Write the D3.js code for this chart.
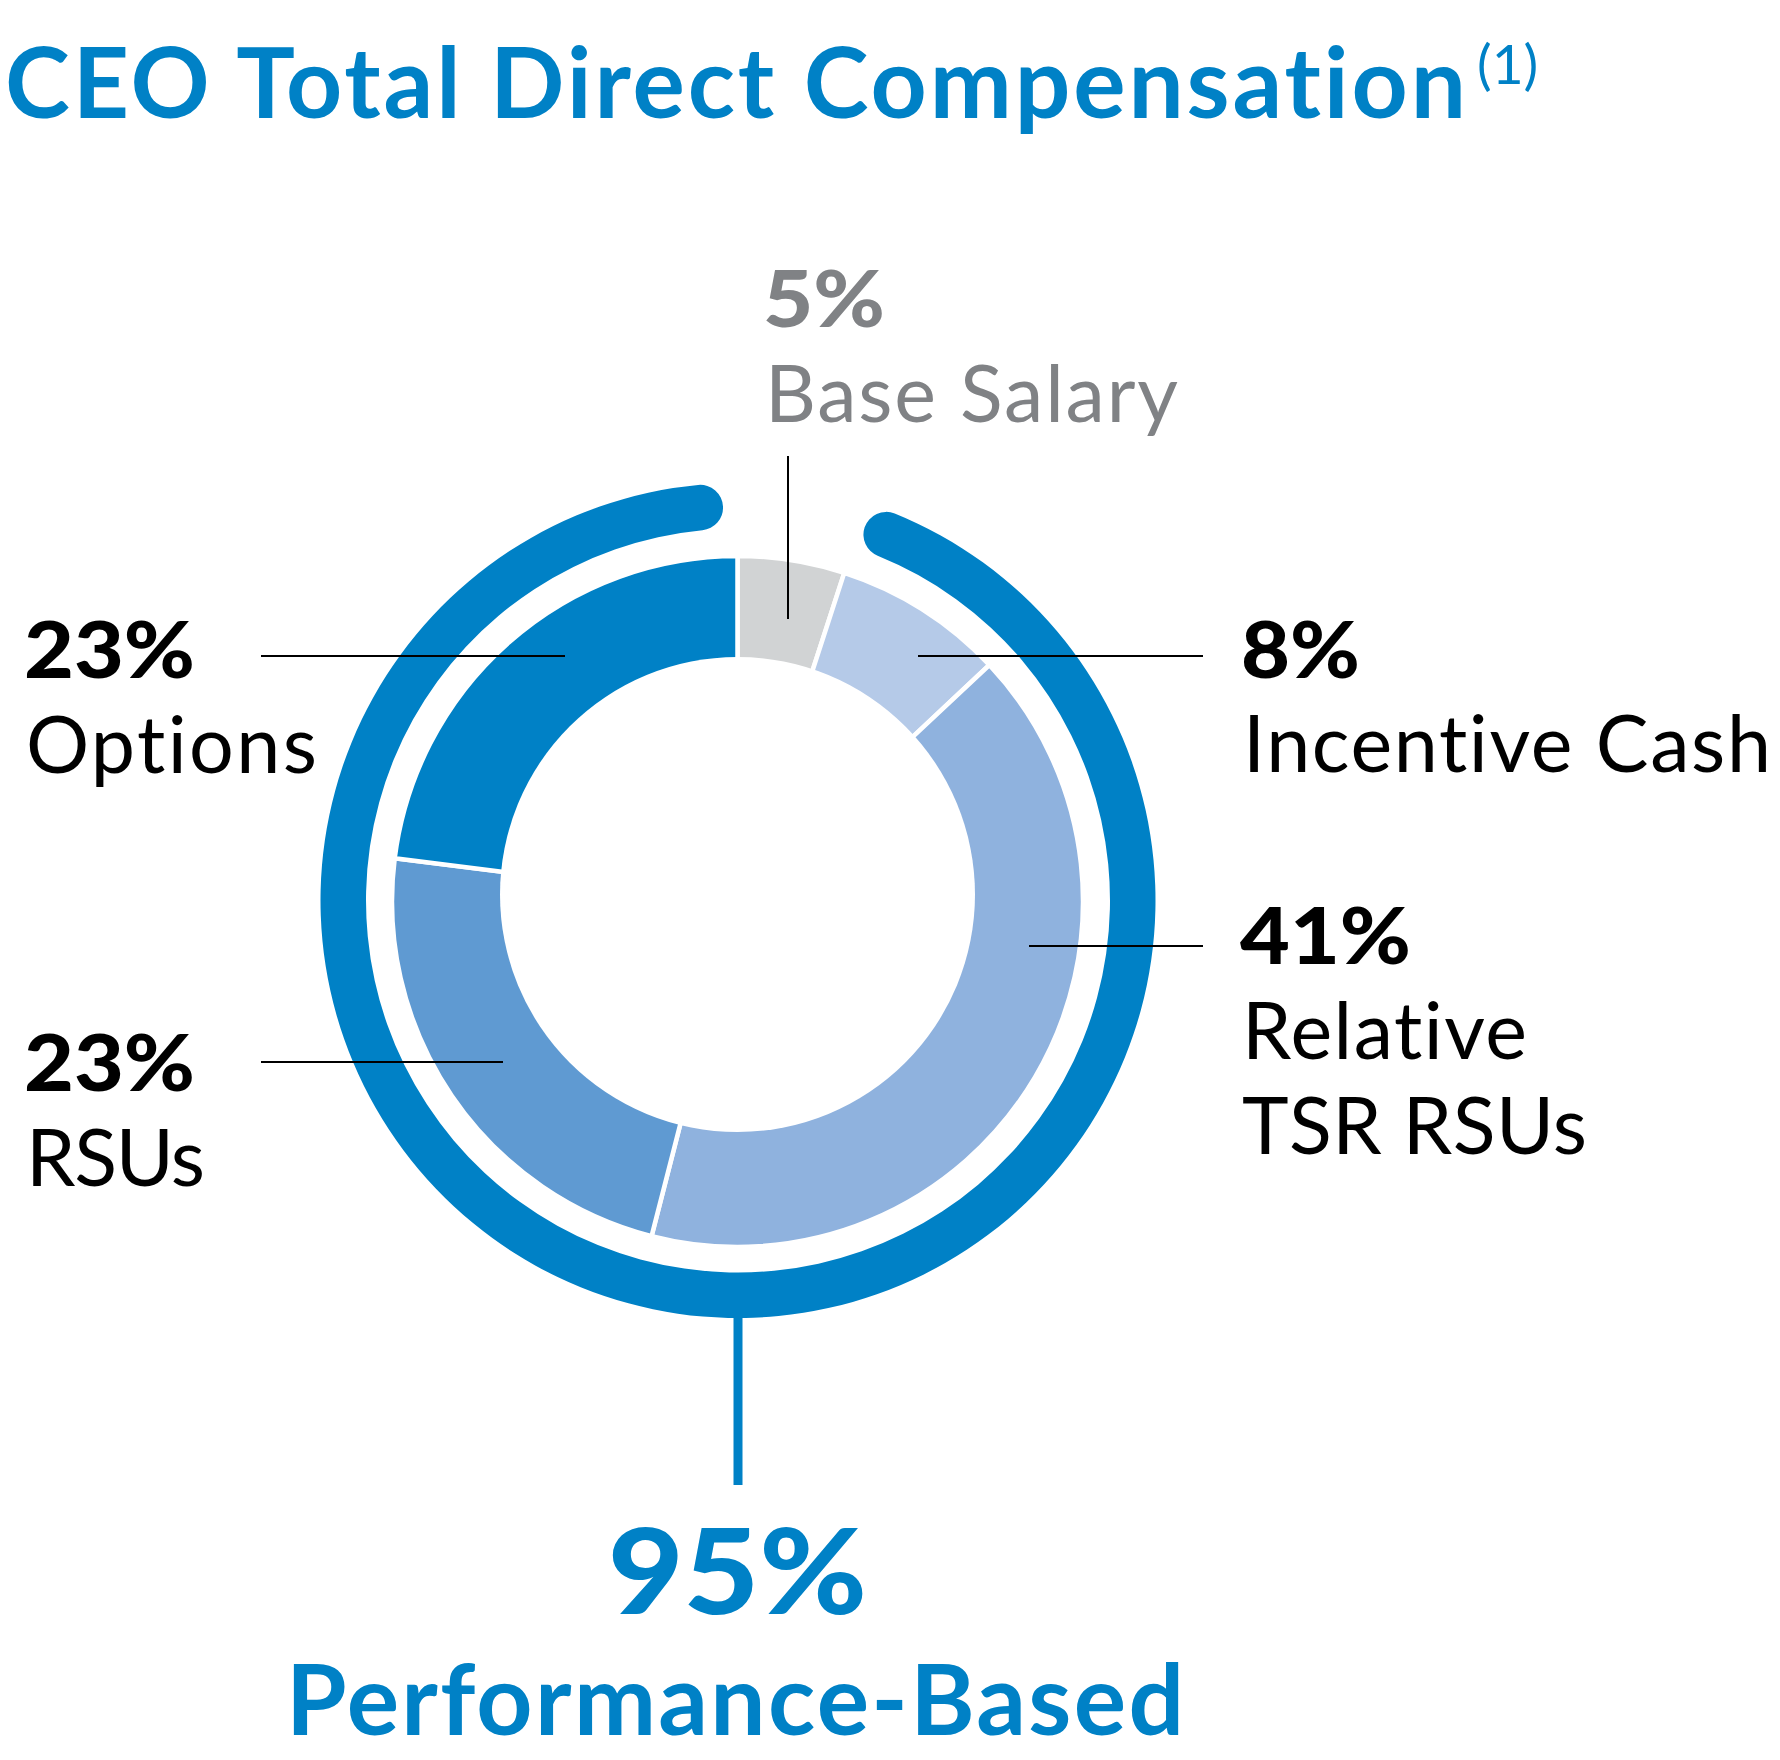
<!DOCTYPE html>
<html><head><meta charset="utf-8">
<script src="https://cdn.jsdelivr.net/npm/d3@7"></script>
<style>
body{margin:0;background:#fff}
svg{display:block}
text{font-family:Lato,"Open Sans",sans-serif;font-variant-ligatures:none;font-feature-settings:"liga" 0,"clig" 0}
</style>
</head><body>
<svg id="chart" width="1780" height="1760"></svg>
<script>
// ---- data ----
const categories = ["Base Salary", "Incentive Cash", "Relative TSR RSUs", "RSUs", "Options"];
const values = [5, 8, 41, 23, 23];
const valueLabels = ["5%", "8%", "41%", "23%", "23%"];
const nameLines = [["Base Salary"], ["Incentive Cash"], ["Relative", "TSR RSUs"], ["RSUs"], ["Options"]];
const performanceBased = 95;
const performanceLabel = "Performance-Based";
const titleText = "CEO Total Direct Compensation";
const titleNote = "(1)";

// ---- styles / layout ----
const colors = ["#d1d3d4", "#b5cae8", "#8fb2de", "#5f9ad2", "#0081c6"];
const blue = "#0081c6";
const cx = 737.5, cy = 901.5;          // donut centre
const holeCx = 737.5, holeCy = 894.5, holeR = 237.5; // inner hole (slightly raised in original)
const rIn = 225, rOut = 345.5;
const ringCx = 738, ringCy = 900.5;
const ringIn = 372, ringOut = 417.5;

const labelLayout = [
  {x: 763, pctY: 327, nameY: [422], pctW: 122, nameW: [413], color: "#808285", line: [788, 456, 788, 619]},
  {x: 1241, pctY: 678, nameY: [772], pctW: 119, nameW: [528], color: "#000", line: [918, 656, 1203, 656]},
  {x: 1240, pctY: 964, nameY: [1059, 1154], pctW: 171, nameW: [285, 345], color: "#000", line: [1029, 946, 1203, 946]},
  {x: 24, pctY: 1091, nameY: [1186], pctW: 171, nameW: [179], color: "#000", line: [261, 1062, 503, 1062]},
  {x: 24, pctY: 678, nameY: [773], pctW: 171, nameW: [291], color: "#000", line: [261, 656, 565, 656]}
];

const svg = d3.select("#chart");

function fit(sel, w, glyphs) {
  sel.attr("textLength", w).attr("lengthAdjust", glyphs ? "spacingAndGlyphs" : "spacing");
  return sel;
}

// title
fit(svg.append("text").attr("x", 5).attr("y", 118)
  .attr("fill", blue).attr("font-size", 98).attr("font-weight", 700)
  .text(titleText), 1461);
svg.append("text").attr("x", 1477).attr("y", 84)
  .attr("fill", blue).attr("font-size", 55).attr("font-weight", 400)
  .text(titleNote);

// donut
const pie = d3.pie().sort(null).value(d => d)(values);
const arc = d3.arc().innerRadius(rIn).outerRadius(rOut);

// performance ring (all but base salary)
const ringArc = d3.arc().innerRadius(ringIn).outerRadius(ringOut).cornerRadius((ringOut - ringIn) / 2);
svg.append("path")
  .attr("transform", `translate(${ringCx},${ringCy})`)
  .attr("d", ringArc({startAngle: pie[1].startAngle + 0.013, endAngle: 2 * Math.PI - 0.038}))
  .attr("fill", blue);

const g = svg.append("g").attr("transform", `translate(${cx},${cy})`);
g.selectAll("path.seg").data(pie).enter().append("path")
  .attr("class", "seg")
  .attr("d", arc)
  .attr("fill", (d, i) => colors[i])
  .attr("stroke", "#fff").attr("stroke-width", 4.5).attr("stroke-linejoin", "miter");

svg.append("circle").attr("cx", holeCx).attr("cy", holeCy).attr("r", holeR).attr("fill", "#fff");

// connector to performance label
svg.append("line").attr("x1", ringCx).attr("x2", ringCx)
  .attr("y1", ringCy + ringOut - 2).attr("y2", 1485)
  .attr("stroke", blue).attr("stroke-width", 9);

// leader lines
labelLayout.forEach((L) => {
  svg.append("line").attr("x1", L.line[0]).attr("y1", L.line[1]).attr("x2", L.line[2]).attr("y2", L.line[3])
    .attr("stroke", "#000").attr("stroke-width", 2);
});

// labels
categories.forEach((c, i) => {
  const L = labelLayout[i];
  fit(svg.append("text").attr("x", L.x).attr("y", L.pctY)
    .attr("fill", L.color).attr("font-size", 78).attr("font-weight", 900)
    .text(valueLabels[i]), L.pctW, true);
  nameLines[i].forEach((t, k) => {
    fit(svg.append("text").attr("x", L.x + 2).attr("y", L.nameY[k])
      .attr("fill", L.color).attr("font-size", 79).attr("font-weight", 400)
      .text(t), L.nameW[k]);
  });
});

// performance based
fit(svg.append("text").attr("x", 608).attr("y", 1614)
  .attr("fill", blue).attr("font-size", 119).attr("font-weight", 900)
  .text(performanceBased + "%"), 259, true);
fit(svg.append("text").attr("x", 286).attr("y", 1735)
  .attr("fill", blue).attr("font-size", 98).attr("font-weight", 700)
  .text(performanceLabel), 898);
</script>
</body></html>
